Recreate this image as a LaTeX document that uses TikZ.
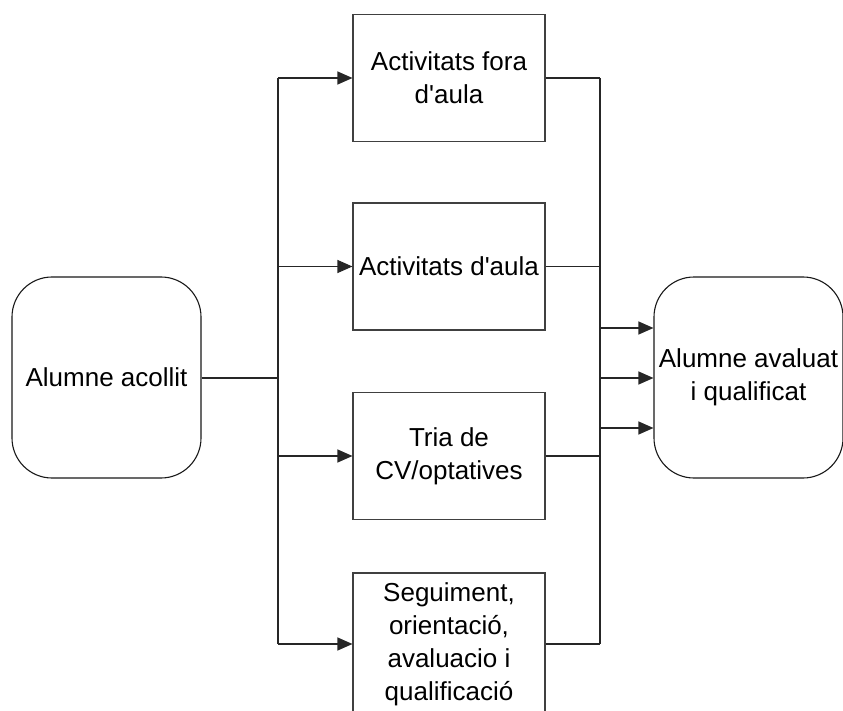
\documentclass[tikz,border=0pt]{standalone}
\usepackage{fontspec}
\setmainfont{Liberation Sans}[Ligatures=TeXOff]
\usetikzlibrary{arrows.meta}

\tikzset{
    wire/.style={black!85, line width=1.1pt},
    flow/.style={wire, -{Triangle[length=15pt,width=13pt]}},
    activity/.style={draw=black!75, line width=1.1pt, minimum width=192pt, minimum height=127pt,
        align=center, inner sep=2pt, font=\fontsize{26}{33}\selectfont},
    pupil/.style={activity, draw=black!90, rounded corners=40pt, minimum width=189pt, minimum height=201pt},
}

\begin{document}
\begin{tikzpicture}[x=1pt,y=-1pt]
        \useasboundingbox (0,0) rectangle (843,711);

        \node[pupil] (acollit) at (106.5,377.5) {Alumne acollit};
        \node[pupil] (avaluat) at (748.5,377.5) {Alumne avaluat\\i qualificat};

        \node[activity] (fora) at (449,78) {Activitats fora\\d'aula};
        \node[activity] (aula) at (449,266.5) {Activitats d'aula};
        \node[activity] (tria) at (449,456) {Tria de\\CV/optatives};
        \node[activity, minimum height=142pt] (seguiment) at (449,644) {Seguiment,\\orientaci\'o,\\avaluacio i\\qualificaci\'o};

        \coordinate (split) at (278,378);
        \coordinate (merge) at (600,378);

        % left side
        \draw [wire] (acollit.east |- split) -- (split);
        \draw [wire] (split |- fora.west) -- (split |- seguiment.west);
        \foreach \n in {fora,aula,tria,seguiment} {
            \draw [flow] (split |- \n.west) -- (\n.west);
        }

        % right side
        \foreach \n in {fora,aula,tria,seguiment} {
            \draw [wire] (\n.east) -- (merge |- \n.east);
        }
        \draw [wire] (merge |- fora.east) -- (merge |- seguiment.east);
        \foreach \dy in {-50,0,50} {
            \draw [flow] ([yshift=\dy pt]merge) -- ([yshift=\dy pt]merge -| avaluat.west);
        }
    \end{tikzpicture}
\end{document}
